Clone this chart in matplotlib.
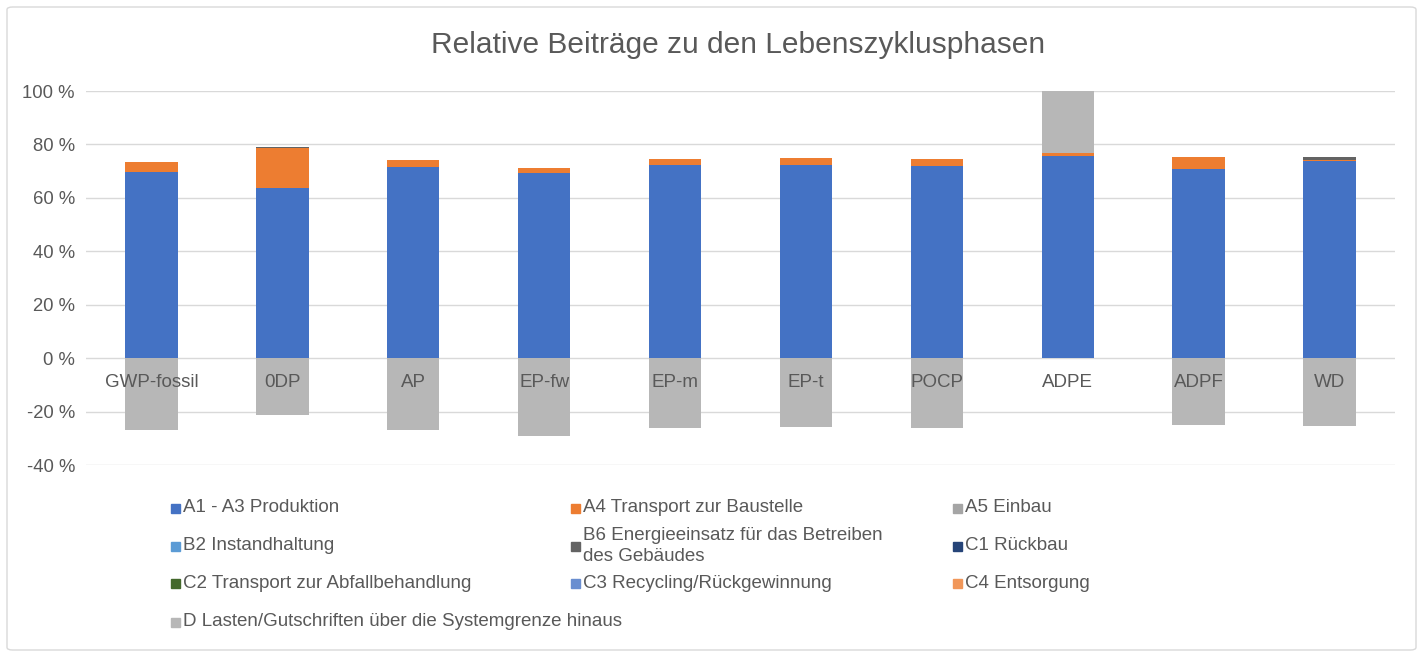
import numpy as np
import matplotlib
matplotlib.use("Agg")
import matplotlib.pyplot as plt
from matplotlib.patches import Rectangle, FancyBboxPatch

plt.rcParams['font.family'] = ['Liberation Sans', 'DejaVu Sans']

# Wirkungskategorien
kategorien = ["GWP-fossil", "0DP", "AP", "EP-fw", "EP-m", "EP-t", "POCP", "ADPE", "ADPF", "WD"]

# Anteile je Lebenszyklusphase in %
a1_a3 = [69.8, 63.8, 71.7, 69.2, 72.2, 72.2, 71.9, 75.6, 70.8, 73.8]
a4 = [3.7, 14.7, 2.5, 1.8, 2.3, 2.8, 2.6, 1.3, 4.6, 0.3]
a5 = [0, 0, 0, 0, 0, 0, 0, 0, 0, 0]
b2 = [0, 0, 0, 0, 0, 0, 0, 0, 0, 0]
b6 = [0, 0.5, 0, 0, 0, 0, 0, 0, 0, 1.1]
c1 = [0, 0, 0, 0, 0, 0, 0, 0, 0, 0]
c2 = [0, 0, 0, 0, 0, 0, 0, 0, 0, 0]
c3 = [0, 0, 0, 0, 0, 0, 0, 0, 0, 0]
c4 = [0, 0, 0, 0, 0, 0, 0, 0, 0, 0]
d = [-27.0, -21.3, -27.0, -29.2, -26.1, -25.6, -26.1, 23.1, -25.1, -25.5]

serien = [a1_a3, a4, a5, b2, b6, c1, c2, c3, c4, d]
namen = ["A1 - A3 Produktion", "A4 Transport zur Baustelle", "A5 Einbau",
         "B2 Instandhaltung", "B6 Energieeinsatz für das Betreiben\ndes Gebäudes", "C1 Rückbau",
         "C2 Transport zur Abfallbehandlung", "C3 Recycling/Rückgewinnung", "C4 Entsorgung",
         "D Lasten/Gutschriften über die Systemgrenze hinaus"]
farben = ["#4472C4", "#ED7D31", "#A5A5A5", "#5B9BD5", "#636363", "#264478",
          "#43682B", "#698ED0", "#F1975A", "#B7B7B7"]

yticks = [-40, -20, 0, 20, 40, 60, 80, 100]

W, H = 1421, 653
fig = plt.figure(figsize=(W / 100, H / 100), dpi=100)
ax = fig.add_axes([86 / W, 1 - 465 / H, (1395 - 86) / W, (465 - 91) / H])

x = np.arange(len(kategorien))
pos = np.zeros(len(kategorien))
neg = np.zeros(len(kategorien))
for werte, farbe in zip(serien, farben):
    werte = np.array(werte, dtype=float)
    unten = np.where(werte >= 0, pos, neg)
    ax.bar(x, werte, 0.4, bottom=unten, color=farbe, zorder=2)
    pos = pos + np.clip(werte, 0, None)
    neg = neg + np.clip(werte, None, 0)

ax.set_xlim(-0.5, len(kategorien) - 0.5)
ax.set_ylim(-40, 100)
ax.set_yticks(yticks)
ax.set_yticklabels([f"{v} %" for v in yticks])
ax.tick_params(axis='y', length=0, pad=8, labelsize=13.3, labelcolor="#595959")
ax.set_xticks([])
ax.grid(axis='y', color="#D9D9D9", linewidth=1, zorder=0)
for s in ax.spines.values():
    s.set_visible(False)

for i, k in enumerate(kategorien):
    ax.text(i, -9, k, ha='center', va='center', fontsize=13.5, color="#595959", zorder=3)

fig.text(738 / W, 1 - 45 / H, "Relative Beiträge zu den Lebenszyklusphasen",
         ha='center', va='center', fontsize=21.5, color="#595959")

# Legende, zeilenweise in drei Spalten
spalten_x = [171, 571, 953]
zeilen_y = [508, 546, 583, 622]
for n, (name, farbe) in enumerate(zip(namen, farben)):
    zx = spalten_x[n % 3]
    zy = zeilen_y[n // 3]
    fig.add_artist(Rectangle((zx / W, 1 - (zy + 5) / H), 9 / W, 9 / H,
                             transform=fig.transFigure, color=farbe))
    fig.text((zx + 12) / W, 1 - zy / H, name, ha='left', va='center',
             fontsize=13.5, color="#595959", linespacing=1.3)

fig.add_artist(FancyBboxPatch((7 / W, 3 / H), (1416 - 7) / W, (646 - 3) / H,
                              boxstyle="round,pad=0,rounding_size=0.004",
                              transform=fig.transFigure, fill=False,
                              edgecolor="#D9D9D9", linewidth=1))

fig.savefig("out.png", dpi=100)
